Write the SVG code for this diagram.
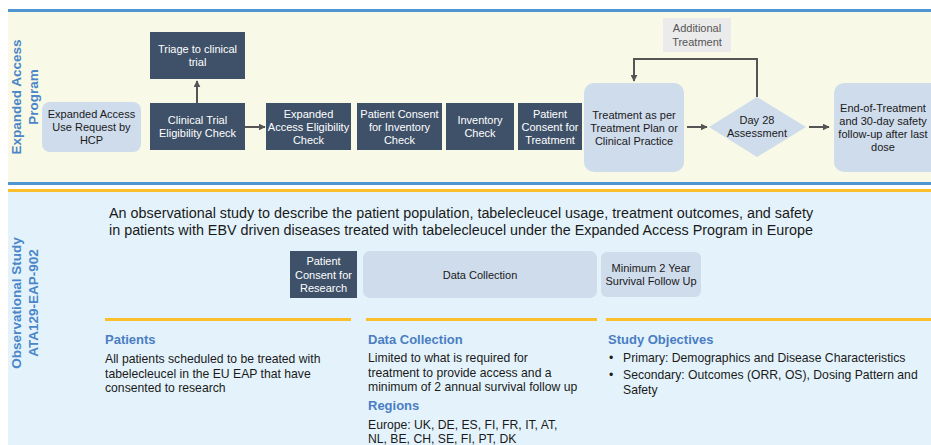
<svg xmlns="http://www.w3.org/2000/svg" width="931" height="445" viewBox="0 0 931 445">
<style>
text{font-family:"Liberation Sans",Arial,sans-serif}
.dk{fill:#3e5169}
.lt{fill:#cfdcec}
.wt{fill:#ffffff;font-size:11px;text-anchor:middle}
.bt{fill:#1a1a1a;font-size:11px;text-anchor:middle}
.side{fill:#4a86c8;font-size:13.5px;font-weight:bold;text-anchor:middle}
.hd{fill:#4a7dc3;font-size:13px;font-weight:bold}
.body{fill:#1a1a1a;font-size:12.2px}
.con{stroke:#555555;stroke-width:2;fill:none}
</style>
<defs>
<marker id="ah" viewBox="0 0 10 10" refX="9" refY="5" markerWidth="3.5" markerHeight="3.5" orient="auto" markerUnits="strokeWidth">
<path d="M0,0 L10,5 L0,10 z" fill="#555555"/>
</marker>
</defs>
<rect x="0" y="0" width="931" height="445" fill="#ffffff"/>
<!-- panels -->
<rect x="8" y="11" width="923" height="172" fill="#f8f9e6"/>
<rect x="8" y="9" width="923" height="3" fill="#4f95d1"/>
<rect x="8" y="182" width="923" height="3" fill="#4f95d1"/>
<rect x="8" y="192" width="923" height="253" fill="#e4f3fb"/>
<rect x="8" y="189" width="923" height="3" fill="#fbbf2b"/>

<g id="label-eap">
<text class="side" transform="translate(21,97) rotate(-90)">Expanded Access</text>
<text class="side" transform="translate(38,97) rotate(-90)">Program</text>
</g>
<g id="label-obs">
<text class="side" transform="translate(21,303) rotate(-90)">Observational Study</text>
<text class="side" transform="translate(38,303) rotate(-90)">ATA129-EAP-902</text>
</g>

<g id="connectors">
<line class="con" x1="197" y1="103" x2="197" y2="81" marker-end="url(#ah)"/>
<line class="con" x1="245" y1="127" x2="265" y2="127" marker-end="url(#ah)"/>
<line class="con" x1="687" y1="127" x2="707" y2="127" marker-end="url(#ah)"/>
<line class="con" x1="809" y1="127" x2="829" y2="127" marker-end="url(#ah)"/>
<polyline class="con" points="757,97 757,59 634,59 634,81" marker-end="url(#ah)"/>
</g>

<g id="n-request">
<rect class="lt" x="42" y="102" width="99" height="50" rx="8"/>
<text class="bt" x="91.5" y="118">Expanded Access</text>
<text class="bt" x="91.5" y="131">Use Request by</text>
<text class="bt" x="91.5" y="144">HCP</text>
</g>
<g id="n-triage">
<rect class="dk" x="150" y="32" width="95" height="47"/>
<text class="wt" x="197.5" y="53">Triage to clinical</text>
<text class="wt" x="197.5" y="66">trial</text>
</g>
<g id="n-ctcheck">
<rect class="dk" x="150" y="103" width="95" height="47"/>
<text class="wt" x="197.5" y="124">Clinical Trial</text>
<text class="wt" x="197.5" y="137">Eligibility Check</text>
</g>
<g id="n-eacheck">
<rect class="dk" x="266" y="103" width="85" height="47"/>
<text class="wt" x="308.5" y="118">Expanded</text>
<text class="wt" x="308.5" y="131">Access Eligibility</text>
<text class="wt" x="308.5" y="144">Check</text>
</g>
<g id="n-consent-inv">
<rect class="dk" x="357" y="103" width="85" height="47"/>
<text class="wt" x="399.5" y="118">Patient Consent</text>
<text class="wt" x="399.5" y="131">for Inventory</text>
<text class="wt" x="399.5" y="144">Check</text>
</g>
<g id="n-inventory">
<rect class="dk" x="446" y="103" width="68" height="47"/>
<text class="wt" x="480" y="124">Inventory</text>
<text class="wt" x="480" y="137">Check</text>
</g>
<g id="n-consent-tx">
<rect class="dk" x="518" y="103" width="64" height="47"/>
<text class="wt" x="550" y="118">Patient</text>
<text class="wt" x="550" y="131">Consent for</text>
<text class="wt" x="550" y="144">Treatment</text>
</g>
<g id="n-treatment">
<rect class="lt" x="584" y="83" width="100" height="89" rx="10"/>
<text class="bt" x="634" y="119">Treatment as per</text>
<text class="bt" x="634" y="132">Treatment Plan or</text>
<text class="bt" x="634" y="145">Clinical Practice</text>
</g>
<g id="n-day28">
<polygon class="lt" points="757,97 806,127 757,157 709,127"/>
<text class="bt" x="757" y="124">Day 28</text>
<text class="bt" x="757" y="137">Assessment</text>
</g>
<g id="n-additional">
<rect x="663" y="18" width="68" height="34" fill="#ebebeb"/>
<text class="bt" x="697" y="32" style="fill:#555555">Additional</text>
<text class="bt" x="697" y="46" style="fill:#555555">Treatment</text>
</g>
<g id="n-eot">
<rect class="lt" x="834" y="83" width="110" height="89" rx="10"/>
<text class="bt" x="883" y="112">End-of-Treatment</text>
<text class="bt" x="883" y="125">and 30-day safety</text>
<text class="bt" x="883" y="138">follow-up after last</text>
<text class="bt" x="883" y="151">dose</text>
</g>

<g id="intro">
<text x="109" y="218" style="fill:#1a1a1a;font-size:14.35px">An observational study to describe the patient population, tabelecleucel usage, treatment outcomes, and safety</text>
<text x="109" y="234.5" style="fill:#1a1a1a;font-size:14.35px">in patients with EBV driven diseases treated with tabelecleucel under the Expanded Access Program in Europe</text>
</g>

<g id="n-consent-research">
<rect class="dk" x="290" y="251" width="67" height="47"/>
<text class="wt" x="323.5" y="265">Patient</text>
<text class="wt" x="323.5" y="279">Consent for</text>
<text class="wt" x="323.5" y="292">Research</text>
</g>
<g id="n-datacollection">
<rect class="lt" x="363" y="251" width="234" height="47" rx="7"/>
<text class="bt" x="480" y="279">Data Collection</text>
</g>
<g id="n-followup">
<rect class="lt" x="601" y="252" width="100" height="45" rx="6"/>
<text class="bt" x="651" y="272">Minimum 2 Year</text>
<text class="bt" x="651" y="285">Survival Follow Up</text>
</g>

<g id="dividers">
<rect x="105" y="318" width="246" height="3" fill="#fbbf2b"/>
<rect x="366" y="318" width="231" height="3" fill="#fbbf2b"/>
<rect x="606" y="318" width="325" height="3" fill="#fbbf2b"/>
</g>

<g id="col-patients">
<text class="hd" x="105" y="344">Patients</text>
<text class="body" x="105" y="363">All patients scheduled to be treated with</text>
<text class="body" x="105" y="377.5">tabelecleucel in the EU EAP that have</text>
<text class="body" x="105" y="392">consented to research</text>
</g>
<g id="col-data">
<text class="hd" x="368" y="344">Data Collection</text>
<text class="body" x="368" y="362">Limited to what is required for</text>
<text class="body" x="368" y="376.5">treatment to provide access and  a</text>
<text class="body" x="368" y="391">minimum of 2 annual survival follow up</text>
<text class="hd" x="368" y="410">Regions</text>
<text class="body" x="368" y="429">Europe: UK, DE, ES, FI, FR, IT, AT,</text>
<text class="body" x="368" y="443">NL, BE, CH, SE, FI, PT, DK</text>
</g>
<g id="col-objectives">
<text class="hd" x="608" y="344">Study Objectives</text>
<text class="body" x="609" y="362">•</text>
<text class="body" x="623" y="362">Primary: Demographics and Disease Characteristics</text>
<text class="body" x="609" y="379">•</text>
<text class="body" x="623" y="379">Secondary: Outcomes (ORR, OS), Dosing Pattern and</text>
<text class="body" x="623" y="394">Safety</text>
</g>
</svg>
